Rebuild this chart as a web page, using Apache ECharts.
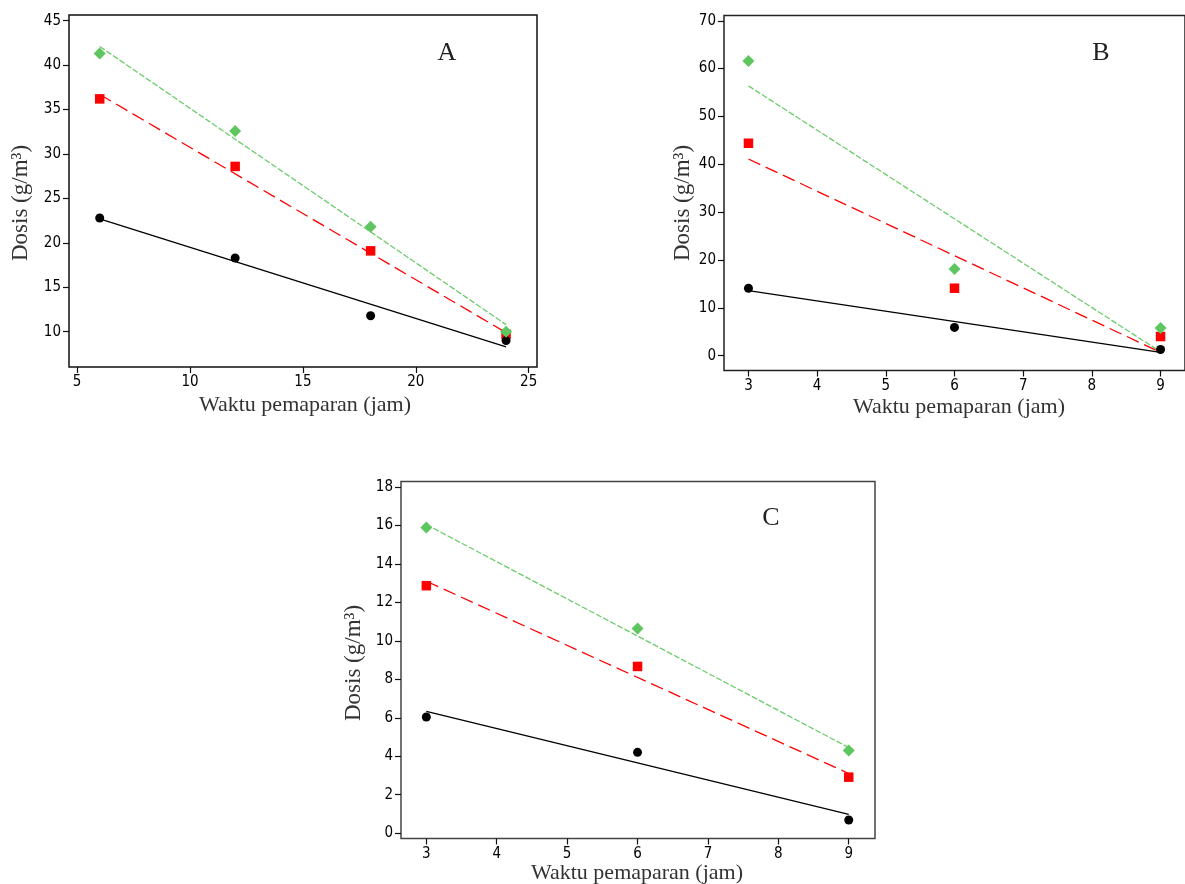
<!DOCTYPE html>
<html>
<head>
<meta charset="utf-8">
<script src="https://cdn.jsdelivr.net/npm/echarts@6/dist/echarts.min.js"></script>
<style>
html,body{margin:0;padding:0;background:#fff;}
#chart{width:1185px;height:884px;}
</style>
</head>
<body>
<div id="chart"></div>
<script>
// ---------- Panel A ----------
const timeA = [6, 12, 18, 24];
const greenA = [41.3, 32.6, 21.8, 10.0];
const redA = [36.2, 28.6, 19.1, 9.7];
const blackA = [22.8, 18.3, 11.8, 9.0];
const trendXA = [6, 24];
const greenTrendA = [42.1, 10.8];
const redTrendA = [36.7, 9.9];
const blackTrendA = [22.7, 8.3];
const xTicksA = [5, 10, 15, 20, 25];
const yTicksA = [10, 15, 20, 25, 30, 35, 40, 45];

// ---------- Panel B ----------
const timeB = [3, 6, 9];
const greenB = [61.6, 18.1, 5.8];
const redB = [44.4, 14.1, 4.0];
const blackB = [14.1, 5.9, 1.3];
const trendXB = [3, 9];
const greenTrendB = [56.4, 0.8];
const redTrendB = [41.1, 0.7];
const blackTrendB = [13.6, 0.7];
const xTicksB = [3, 4, 5, 6, 7, 8, 9];
const yTicksB = [0, 10, 20, 30, 40, 50, 60, 70];

// ---------- Panel C ----------
const timeC = [3, 6, 9];
const greenC = [15.9, 10.65, 4.3];
const redC = [12.87, 8.67, 2.91];
const blackC = [6.04, 4.2, 0.68];
const trendXC = [3, 9];
const greenTrendC = [16.05, 4.45];
const redTrendC = [13.1, 3.1];
const blackTrendC = [6.33, 0.98];
const xTicksC = [3, 4, 5, 6, 7, 8, 9];
const yTicksC = [0, 2, 4, 6, 8, 10, 12, 14, 16, 18];

const panelLetters = ['A', 'B', 'C'];
const xTitle = 'Waktu pemaparan (jam)';
const yTitle = 'Dosis (g/m³)';

const GREEN_M = '#5ec65e', GREEN_L = '#6ccc6c', RED = '#ff0000', BLACK = '#000000';
const tickFont = "'DejaVu Sans Condensed', 'DejaVu Sans', sans-serif";
const serif = "'Liberation Serif', 'DejaVu Serif', serif";

function pairs(xs, ys) { return xs.map((x, i) => [x, ys[i]]); }

function mkAxis(idx, min, max, ticks) {
  return {
    type: 'value', gridIndex: idx, min: min, max: max,
    splitLine: {show: false},
    axisLine: {show: false, onZero: false},
    axisTick: {show: true, inside: false, length: 6, customValues: ticks, lineStyle: {color: '#111', width: 1.2}},
    axisLabel: {show: true, margin: 8, customValues: ticks, color: '#000', fontSize: 15, fontFamily: tickFont}
  };
}

function panelSeries(idx, trendX, gT, rT, bT, t, g, r, b) {
  return [
    {type: 'line', xAxisIndex: idx, yAxisIndex: idx, data: pairs(trendX, bT), symbol: 'none', silent: true,
     lineStyle: {color: BLACK, width: 1.3, type: 'solid'}, z: 2},
    {type: 'line', xAxisIndex: idx, yAxisIndex: idx, data: pairs(trendX, rT), symbol: 'none', silent: true,
     lineStyle: {color: RED, width: 1.3, type: [13, 6]}, z: 2},
    {type: 'line', xAxisIndex: idx, yAxisIndex: idx, data: pairs(trendX, gT), symbol: 'none', silent: true,
     lineStyle: {color: GREEN_L, width: 1.3, type: [6, 2]}, z: 2},
    {type: 'scatter', xAxisIndex: idx, yAxisIndex: idx, data: pairs(t, r), symbol: 'rect', symbolSize: 9.5,
     itemStyle: {color: RED, opacity: 1}, z: 3},
    {type: 'scatter', xAxisIndex: idx, yAxisIndex: idx, data: pairs(t, b), symbol: 'circle', symbolSize: 9,
     itemStyle: {color: BLACK, opacity: 1}, z: 4},
    {type: 'scatter', xAxisIndex: idx, yAxisIndex: idx, data: pairs(t, g), symbol: 'diamond', symbolSize: 12,
     itemStyle: {color: GREEN_M, opacity: 1}, z: 5}
  ];
}

function txt(x, y, text, size, rot, color) {
  return {type: 'text', x: x, y: y, rotation: rot || 0, silent: true,
    style: {text: text, fill: color || '#333', font: size + 'px ' + serif,
      align: 'center', verticalAlign: 'middle', textAlign: 'center', textVerticalAlign: 'middle'}};
}

const chart = echarts.init(document.getElementById('chart'), null, {renderer: 'canvas'});
const option = {
  animation: false,
  backgroundColor: '#ffffff',
  grid: [
    {left: 69, top: 15, width: 468, height: 352, show: true, borderColor: '#111', borderWidth: 1.5, backgroundColor: 'transparent', containLabel: false},
    {left: 724, top: 15.5, width: 471, height: 355, show: true, borderColor: '#222', borderWidth: 1.5, backgroundColor: 'transparent', containLabel: false},
    {left: 401, top: 481.5, width: 474, height: 357, show: true, borderColor: '#444', borderWidth: 1.5, backgroundColor: 'transparent', containLabel: false}
  ],
  xAxis: [
    mkAxis(0, 4.64, 25.37, xTicksA),
    mkAxis(1, 2.644, 9.356, xTicksB),
    mkAxis(2, 2.64, 9.373, xTicksC)
  ],
  yAxis: [
    mkAxis(0, 6.03, 45.64, yTicksA),
    mkAxis(1, -3.1, 71.1, yTicksB),
    mkAxis(2, -0.28, 18.29, yTicksC)
  ],
  series: [].concat(
    panelSeries(0, trendXA, greenTrendA, redTrendA, blackTrendA, timeA, greenA, redA, blackA),
    panelSeries(1, trendXB, greenTrendB, redTrendB, blackTrendB, timeB, greenB, redB, blackB),
    panelSeries(2, trendXC, greenTrendC, redTrendC, blackTrendC, timeC, greenC, redC, blackC)
  ),
  graphic: [
    txt(305, 405, xTitle, 22),
    txt(959, 407, xTitle, 22),
    txt(637, 873, xTitle, 22),
    txt(21, 203, yTitle, 23, Math.PI / 2),
    txt(683, 203, yTitle, 23, Math.PI / 2),
    txt(354, 663, yTitle, 23, Math.PI / 2),
    txt(447, 53, panelLetters[0], 26, 0, '#222'),
    txt(1101, 53, panelLetters[1], 26, 0, '#222'),
    txt(771, 518, panelLetters[2], 26, 0, '#222')
  ]
};
chart.setOption(option);
</script>
</body>
</html>
